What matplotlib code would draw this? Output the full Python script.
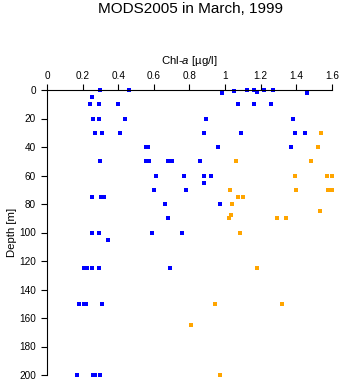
import matplotlib
matplotlib.use("Agg")
import matplotlib.pyplot as plt

plt.rcParams['font.family'] = ['Liberation Sans', 'DejaVu Sans']
plt.rcParams['mathtext.fontset'] = 'custom'
plt.rcParams['mathtext.it'] = 'Liberation Sans:italic'
plt.rcParams['mathtext.rm'] = 'Liberation Sans'

# blue station profiles: chlorophyll (ug/l) vs depth (m)
blue_chl = [0.30, 0.46, 0.25, 0.24, 0.29, 0.40, 0.26, 0.29, 0.44, 0.27, 0.31, 0.41,
            0.555, 0.565, 0.30, 0.555, 0.57, 0.68, 0.70, 0.61, 0.77, 0.60, 0.78,
            0.25, 0.305, 0.32, 0.66, 0.68, 0.25, 0.29, 0.59, 0.76,
            0.98, 1.05, 1.12, 1.16, 1.18, 1.22, 1.27, 1.46,
            1.07, 1.16, 1.26, 0.89, 1.38, 0.88, 1.09, 1.39, 1.45, 0.96, 1.37,
            0.86, 0.88, 0.92, 0.88, 0.97,
            0.34, 0.21, 0.225, 0.25, 0.29, 0.69, 0.18, 0.21, 0.22, 0.31,
            0.17, 0.26, 0.27, 0.30]
blue_depth = [0, 0, 5, 10, 10, 10, 20, 20, 20, 30, 30, 30,
              40, 40, 50, 50, 50, 50, 50, 60, 60, 70, 70,
              75, 75, 75, 80, 90, 100, 100, 100, 100,
              2, 1, 0, 0, 1.5, 0, 0, 2,
              10, 10, 10, 20, 20, 30, 30, 30, 30, 40, 40,
              50, 60, 60, 65, 80,
              105, 125, 125, 125, 125, 125, 150, 150, 150, 150,
              200, 200, 200, 200]

# orange station profiles
orange_chl = [1.54, 1.52, 1.06, 1.48, 1.39, 1.57, 1.60, 1.03, 1.40, 1.58, 1.60,
              1.07, 1.10, 1.04, 1.53, 1.035, 1.02, 1.29, 1.34, 1.085, 1.18,
              0.945, 1.32, 0.81, 0.97]
orange_depth = [30, 40, 50, 50, 60, 60, 60, 70, 70, 70, 70,
                75, 75, 80, 85, 88, 90, 90, 90, 100, 125,
                150, 150, 165, 200]

x_ticks = [0, 0.2, 0.4, 0.6, 0.8, 1, 1.2, 1.4, 1.6]
x_tick_labels = ['0', '0.2', '0.4', '0.6', '0.8', '1', '1.2', '1.4', '1.6']
y_ticks = list(range(0, 201, 20))

fig = plt.figure(figsize=(3.43, 3.84), dpi=100)
ax = fig.add_axes([47 / 343, 1 - 375 / 384, 285 / 343, 285 / 384])

ax.plot(blue_chl, blue_depth, 's', color='#0000ff', ms=2.7, mew=0, clip_on=False)
ax.plot(orange_chl, orange_depth, 's', color='#ffa500', ms=2.7, mew=0, clip_on=False)

ax.set_xlim(0, 1.6)
ax.set_ylim(200, 0)
ax.xaxis.tick_top()
ax.xaxis.set_label_position('top')
ax.set_xticks(x_ticks)
ax.set_xticklabels(x_tick_labels)
ax.set_yticks(y_ticks)
ax.tick_params(direction='out', length=4.3, width=0.8, labelsize=7.2)
ax.tick_params(axis='x', pad=2.5)
ax.tick_params(axis='y', pad=3.5)
ax.spines['right'].set_visible(False)
ax.spines['bottom'].set_visible(False)
for s in ('left', 'top'):
    ax.spines[s].set_linewidth(0.8)

ax.set_xlabel('Chl-$a$ [µg/l]', fontsize=8.2, labelpad=4.5)
ax.set_ylabel('Depth [m]', fontsize=8.2, labelpad=2)
fig.text(0.555, 0.976, 'MODS2005 in March, 1999', ha='center', va='center', fontsize=11)

fig.savefig('out.png', dpi=100)
